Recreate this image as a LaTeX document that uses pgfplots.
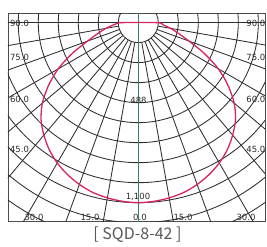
\documentclass[border=0pt]{standalone}
\usepackage{pgfplots}
\pgfplotsset{compat=1.18}
\usepackage{pgfplotstable}
\usepackage{fontspec}
\setmainfont{DejaVu Sans}
\newfontfamily\cjk{Noto Sans CJK JP}
\definecolor{gridc}{HTML}{2E2E2E}
\definecolor{curvec}{HTML}{D8245E}
\definecolor{centerc}{HTML}{3F7C74}
\definecolor{txt}{HTML}{2A2A2A}

\pgfplotstableread{
a I
-90 115
-85 152
-80 200
-75 255
-70 330
-65 445
-60 565
-55 670
-50 765
-45 840
-40 897
-35 948
-30 990
-25 1024
-20 1052
-15 1074
-10 1087
-5 1096
0 1100
5 1096
10 1087
15 1074
20 1052
25 1024
30 990
35 948
40 897
45 840
50 765
55 670
60 565
65 445
70 330
75 255
80 200
85 152
90 115
-90 115
}\curvedata

\begin{document}
\begin{tikzpicture}[x=1pt,y=1pt]
\useasboundingbox (0,0) rectangle (267,-246);
\node[anchor=base west, font=\cjk\fontsize{14}{14}\selectfont, text=black!60, inner sep=0] at (10,3.5) {配光特性};
\begin{axis}[anchor=south west, at={(8pt,-221.5pt)},
  x=0.16367pt, y=0.16367pt,
  xmin=-796, xmax=777, ymin=-1215, ymax=57.4,
  xtick=\empty, ytick=\empty,
  axis line style={draw=black!70, line width=0.9pt},
  clip=true]
\pgfplotsinvokeforeach{1,...,12}{\draw[gridc, line width=0.85pt] (axis cs:0,0) circle[radius=122.22*#1];}
\pgfplotsinvokeforeach{-90,-80,...,90}{\draw[gridc, line width=0.85pt] (axis cs:{122.22*sin(#1)},{-122.22*cos(#1)}) -- (axis cs:{2000*sin(#1)},{-2000*cos(#1)});}
\draw[centerc, line width=0.85pt] (axis cs:0,100) -- (axis cs:0,-1300);
\addplot[curvec, line width=1.3pt, smooth] table[x expr={\thisrow{I}*sin(\thisrow{a})}, y expr={-\thisrow{I}*cos(\thisrow{a})}] {\curvedata};
\end{axis}
\begin{scope}[every node/.style={font=\fontsize{8.5}{10}\selectfont, text=txt, inner sep=0}]
\node[anchor=west] at (9.8,-23) {90.0};
\node[anchor=west] at (9.8,-57) {75.0};
\node[anchor=west] at (9.8,-99) {60.0};
\node[anchor=west] at (9.8,-149) {45.0};
\node[anchor=east] at (265.5,-23) {90.0};
\node[anchor=east] at (265.5,-57) {75.0};
\node[anchor=east] at (265.5,-99) {60.0};
\node[anchor=east] at (265.5,-149) {45.0};
\node at (34,-217.5) {30.0};
\node at (90,-217.5) {15.0};
\node at (140,-217.5) {0.0};
\node at (183,-217.5) {15.0};
\node at (246,-217.5) {30.0};
\node at (138.5,-100) {488};
\node at (138,-197) {1,100};
\end{scope}
\node[font=\cjk\fontsize{16}{16}\selectfont, text=black!65, inner sep=0] at (137.5,-235) {[ SQD-8-42 ]};
\end{tikzpicture}
\end{document}
